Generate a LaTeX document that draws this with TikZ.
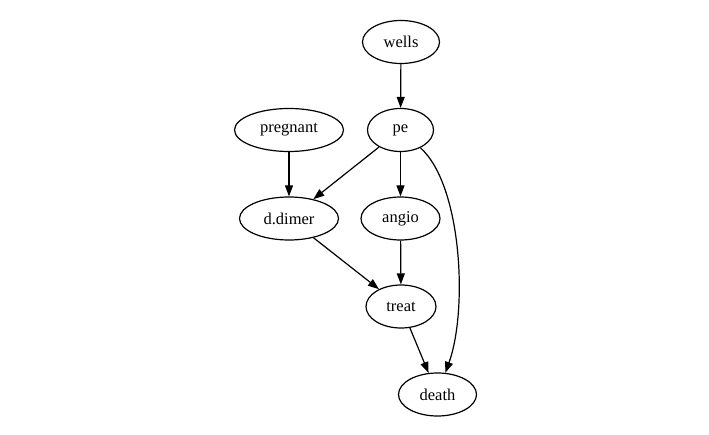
\documentclass[tikz,border=0pt]{standalone}
\usepackage{fontspec}
\setmainfont{Liberation Serif}
\newfontfamily\varfont{Liberation Serif}
\usetikzlibrary{shapes.geometric,arrows.meta}

\begin{document}
\begin{tikzpicture}[x=1pt, y=-1pt, var/.style={ellipse, draw, inner sep=0pt,
	minimum height=43pt, font=\varfont\fontsize{16.5}{18}\selectfont}, >={Triangle[length=11pt,width=8pt]}, line width=1.2pt]

\useasboundingbox (0,0) rectangle (709,435);

\node[var, minimum width=77pt] at (401,42)(wells) {wells};
\node[var, minimum width=66pt] at (400.5,130)(pe) {pe};
\node[var, minimum width=109pt] at (289,130)(pregnant) {pregnant};
\node[var, minimum width=99pt] at (289,218.5)(ddimer) {d.dimer};
\node[var, minimum width=79pt] at (400.5,218.5)(angio) {angio};
\node[var, minimum width=70pt] at (401,306.5)(treat) {treat};
\node[var, minimum width=78pt] at (437.5,394.5)(death) {death};

\draw[->] (wells) -- (pe);
\draw[->] (pregnant) -- (ddimer);
\draw[->] (pe) -- (ddimer);
\draw[->] (pe) -- (angio);
\draw[->] (ddimer) -- (treat);
\draw[->] (angio) -- (treat);
\draw[->] (treat) -- (death);
\draw[->] (pe) .. controls (462,185) and (468,310) .. (death);
\end{tikzpicture}
\end{document}
